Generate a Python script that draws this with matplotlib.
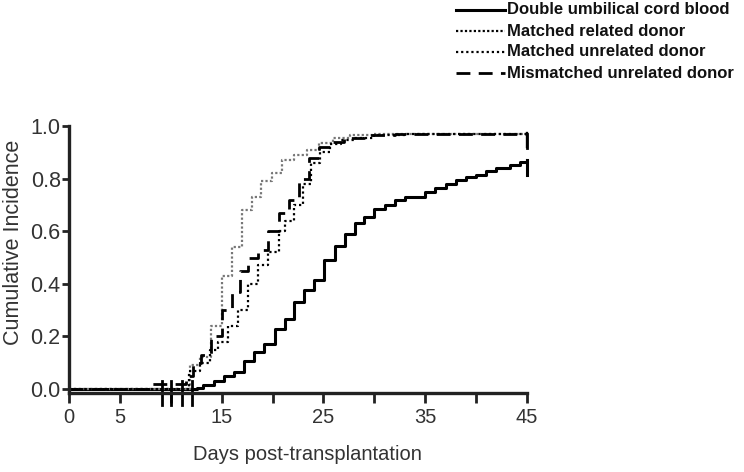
import numpy as np
import matplotlib
matplotlib.use('Agg')
import matplotlib.pyplot as plt
from matplotlib.lines import Line2D

plt.rcParams['font.family'] = ['Liberation Sans', 'DejaVu Sans']

# cumulative incidence, step curves (value holds from day onwards)
dcb_days = [0, 12.6, 13.2, 14.2, 15.2, 16.2, 17.2, 18.2, 19.2, 20.2, 21.2, 22.1, 23.1, 24.1,
            25.1, 26.1, 27.1, 28.1, 29.0, 30.0, 31.0, 32.0, 33.0, 35.0, 36.0, 37.0, 38.0,
            39.0, 40.0, 41.0, 42.0, 43.3, 44.3, 45]
dcb_vals = [0, 0.005, 0.015, 0.03, 0.048, 0.065, 0.105, 0.14, 0.17, 0.23, 0.265, 0.33, 0.375,
            0.415, 0.49, 0.545, 0.59, 0.63, 0.655, 0.685, 0.70, 0.72, 0.73, 0.75, 0.765, 0.78,
            0.795, 0.805, 0.815, 0.83, 0.84, 0.85, 0.865, 0.87]

mrd_days = [0, 11.9, 12.9, 14.0, 15.0, 16.0, 17.0, 18.0, 18.9, 19.9, 20.9, 22.1, 23.4, 24.6,
            25.9, 27.6, 30.0, 45]
mrd_vals = [0, 0.09, 0.12, 0.24, 0.43, 0.54, 0.68, 0.73, 0.79, 0.82, 0.87, 0.89, 0.91, 0.935,
            0.955, 0.965, 0.97, 0.975]

mud_days = [0, 11.8, 12.9, 13.9, 14.6, 15.6, 16.6, 17.6, 18.6, 19.6, 20.6, 21.2, 22.1, 23.0,
            23.8, 24.7, 25.6, 26.7, 28.0, 30.0, 33.0, 45]
mud_vals = [0, 0.07, 0.10, 0.15, 0.18, 0.24, 0.30, 0.40, 0.47, 0.52, 0.60, 0.64, 0.70, 0.78,
            0.86, 0.90, 0.93, 0.945, 0.955, 0.965, 0.97, 0.975]

mmud_days = [0, 8.2, 11.5, 12.2, 13.0, 14.0, 15.0, 16.0, 16.8, 17.6, 18.6, 19.6, 20.6, 21.6,
             22.6, 23.6, 24.6, 25.6, 27.0, 29.0, 32.0, 45]
mmud_vals = [0, 0.02, 0.05, 0.10, 0.13, 0.20, 0.30, 0.37, 0.45, 0.50, 0.53, 0.60, 0.67, 0.72,
             0.80, 0.88, 0.92, 0.94, 0.955, 0.965, 0.97, 0.97]

censor_days = [9.1, 10.0, 11.1, 12.1]

labels = ['Double umbilical cord blood', 'Matched related donor',
          'Matched unrelated donor', 'Mismatched unrelated donor']

STYLES = [
    dict(color='black', lw=2.2, ls='solid'),
    dict(color='#777777', lw=1.6, ls=(0, (1, 1))),
    dict(color='black', lw=1.6, ls=(0, (1, 1.3))),
    dict(color='black', lw=2.0, ls=(0, (5, 3))),
]

fig = plt.figure(figsize=(7.44, 4.72), dpi=100)
ax = fig.add_axes([69/744, 1 - 393/472, 458/744, 267/472])

series = [(dcb_days, dcb_vals), (mrd_days, mrd_vals), (mud_days, mud_vals), (mmud_days, mmud_vals)]
for (d, v), st in zip(series, STYLES):
    ax.step(d, v, where='post', **st)
    # end-of-follow-up censor tick
    ax.plot([d[-1], d[-1]], [v[-1], v[-1] - 0.055], color=st['color'], lw=st['lw'],
            clip_on=False)

for c in censor_days:
    ax.plot([c, c], [0.03, -0.06], color='black', lw=2.0, clip_on=False)

ax.set_xlim(0, 45)
ax.set_ylim(-0.015, 1.0)
ax.set_xticks(np.arange(0, 46, 5))
ax.set_xticklabels(['0', '5', '', '15', '', '25', '', '35', '', '45'])
ax.set_yticks([0, 0.2, 0.4, 0.6, 0.8, 1.0])
ax.set_yticklabels(['0.0', '0.2', '0.4', '0.6', '0.8', '1.0'])
for s in ['top', 'right']:
    ax.spines[s].set_visible(False)
for s in ['left', 'bottom']:
    ax.spines[s].set_linewidth(2.4)
    ax.spines[s].set_color('#222222')
ax.tick_params(axis='x', length=7, width=2, colors='#222222', labelsize=14.5, pad=4)
ax.tick_params(axis='y', length=5, width=2, colors='#222222', labelsize=15.5, pad=1)
for t in ax.get_xticklabels() + ax.get_yticklabels():
    t.set_color('#333333')

fig.text(14/744, 1 - 242/472, 'Cumulative Incidence', rotation=90, ha='center', va='center',
         fontsize=15.5, color='#333333')
fig.text(307/744, 1 - 455/472, 'Days post-transplantation', ha='center', va='center',
         fontsize=14.5, color='#333333')

# legend drawn by hand at top right
rows_y = [10, 31, 52, 73]
for y, lab, st in zip(rows_y, labels, STYLES):
    yf = 1 - y/472
    lst = dict(st)
    lst['color'] = 'black'
    fig.add_artist(Line2D([456/744, 505/744], [yf, yf], transform=fig.transFigure, **lst))
    fig.text(507/744, yf, lab, ha='left', va='center', fontsize=12, fontweight='bold',
             color='#111111')

fig.savefig('out.png', dpi=100)
